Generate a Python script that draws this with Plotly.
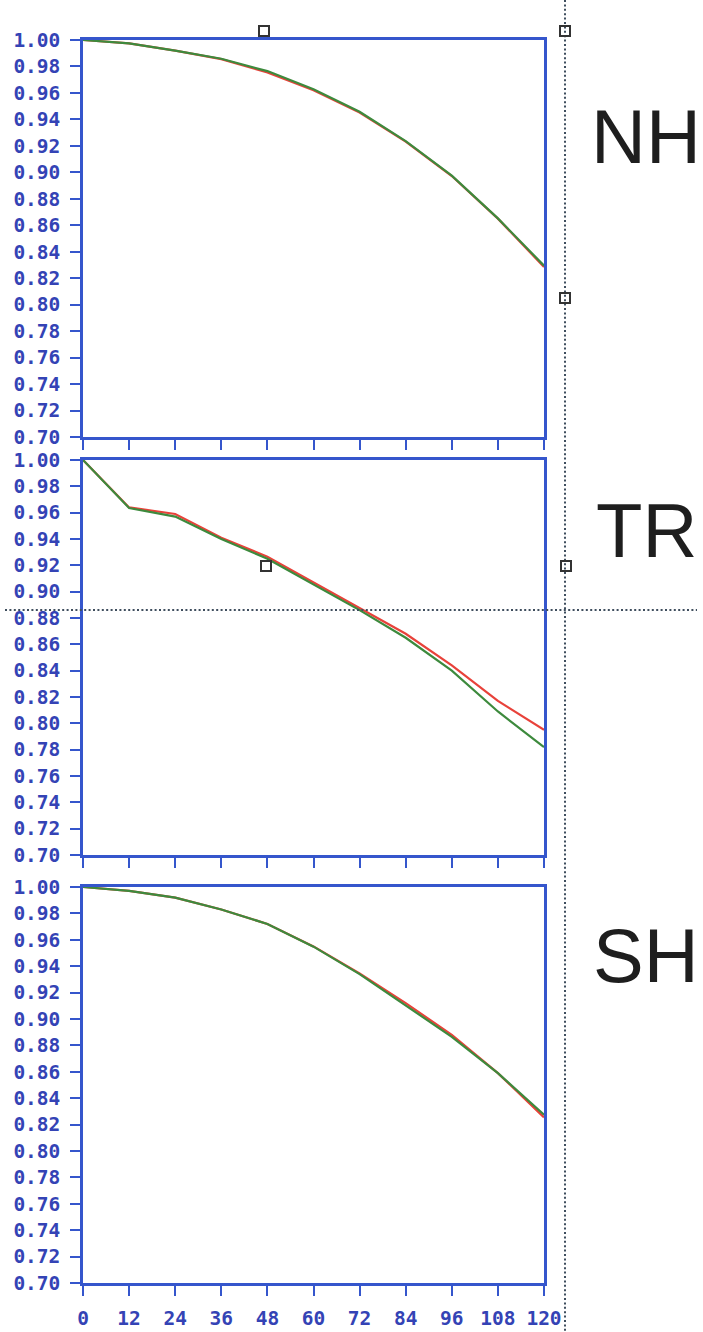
import plotly.graph_objects as go
from plotly.subplots import make_subplots

# Months since start
months = [0, 12, 24, 36, 48, 60, 72, 84, 96, 108, 120]

# Survival fractions per region, two estimates each
nh_red = [1.000, 0.9975, 0.992, 0.9855, 0.9755, 0.962, 0.9452, 0.9232, 0.8972, 0.8650, 0.8285]
nh_green = [1.000, 0.9975, 0.992, 0.9858, 0.9765, 0.9628, 0.9458, 0.9236, 0.8975, 0.8652, 0.8295]

tr_red = [1.000, 0.9640, 0.9590, 0.9410, 0.9265, 0.9070, 0.8870, 0.8680, 0.8440, 0.8170, 0.7950]
tr_green = [1.000, 0.9635, 0.9570, 0.9400, 0.9250, 0.9055, 0.8860, 0.8650, 0.8400, 0.8090, 0.7820]

sh_red = [1.000, 0.9970, 0.9920, 0.9830, 0.9720, 0.9550, 0.9345, 0.9120, 0.8880, 0.8590, 0.8255]
sh_green = [1.000, 0.9970, 0.9920, 0.9830, 0.9720, 0.9548, 0.9340, 0.9105, 0.8865, 0.8590, 0.8275]

regions = ["NH", "TR", "SH"]
red_series = [nh_red, tr_red, sh_red]
green_series = [nh_green, tr_green, sh_green]

y_ticks = [round(0.70 + 0.02 * i, 2) for i in range(16)]
x_ticks = months

W, H = 703, 1332
AXIS_BLUE = "#3556cc"
LABEL_BLUE = "#3443b5"
RED = "#e8423a"
GREEN = "#3d8a3d"
DOT = "#3f4e5e"


def px(x):
    return x / W


def py(y):
    return 1 - y / H


# Panel frames in pixel rows (top, bottom)
panel_rows = [(40, 437), (460, 855), (887, 1283)]
x_left, x_right = 83, 544

fig = make_subplots(rows=3, cols=1)

for i, (reg, r, g) in enumerate(zip(regions, red_series, green_series)):
    fig.add_trace(go.Scatter(x=months, y=r, mode="lines",
                             line=dict(color=RED, width=2.2), showlegend=False),
                  row=i + 1, col=1)
    fig.add_trace(go.Scatter(x=months, y=g, mode="lines",
                             line=dict(color=GREEN, width=2.2), showlegend=False),
                  row=i + 1, col=1)

tick_font = dict(family="DejaVu Sans Mono", size=19.5, color=LABEL_BLUE, weight="bold")

for i, (top, bot) in enumerate(panel_rows):
    xa = "xaxis" if i == 0 else f"xaxis{i + 1}"
    ya = "yaxis" if i == 0 else f"yaxis{i + 1}"
    fig.layout[xa].update(
        domain=[px(x_left), px(x_right)], range=[0, 120], automargin=False,
        tickmode="array", tickvals=x_ticks, ticktext=[str(v) for v in x_ticks],
        showticklabels=(i == 2), ticks="outside", ticklen=10, tickwidth=2,
        tickcolor=AXIS_BLUE, showline=True, linecolor=AXIS_BLUE, linewidth=2.5,
        mirror=True, showgrid=False, zeroline=False, tickfont=tick_font,
        ticklabelstandoff=6,
    )
    fig.layout[ya].update(
        domain=[py(bot), py(top)], range=[0.70, 1.00], automargin=False,
        tickmode="array", tickvals=y_ticks, ticktext=[f"{v:.2f}" for v in y_ticks],
        ticks="outside", ticklen=10, tickwidth=2, tickcolor=AXIS_BLUE,
        showline=True, linecolor=AXIS_BLUE, linewidth=2.5, mirror=True,
        showgrid=False, zeroline=False, tickfont=tick_font,
        ticklabelstandoff=6,
    )

# Region names to the right of each panel
name_rows = [136, 530, 955]
for reg, yc in zip(regions, name_rows):
    fig.add_annotation(text=reg, x=px(646), y=py(yc), xref="paper", yref="paper",
                       showarrow=False, xanchor="center", yanchor="middle",
                       font=dict(family="Liberation Sans", size=76, color="#1e1e1e"))

shapes = []
# Dotted guide lines
shapes.append(dict(type="line", xref="paper", yref="paper",
                   x0=px(565), x1=px(565), y0=py(0), y1=py(H),
                   line=dict(color=DOT, width=2, dash="2px,2.4px")))
shapes.append(dict(type="line", xref="paper", yref="paper",
                   x0=px(5), x1=px(697), y0=py(610), y1=py(610),
                   line=dict(color=DOT, width=2, dash="2px,2.4px")))
# Small hollow handles
for cx, cy in [(264, 31), (565, 31), (565, 298), (266, 566), (566, 566)]:
    shapes.append(dict(type="rect", xref="paper", yref="paper",
                       x0=px(cx - 5), x1=px(cx + 5), y0=py(cy + 5), y1=py(cy - 5),
                       line=dict(color="#333333", width=2), fillcolor="rgba(0,0,0,0)"))

fig.update_layout(
    width=W, height=H,
    margin=dict(l=0, r=0, t=0, b=0),
    paper_bgcolor="white", plot_bgcolor="white",
    shapes=shapes,
    showlegend=False,
)

fig.write_html("out.html")
